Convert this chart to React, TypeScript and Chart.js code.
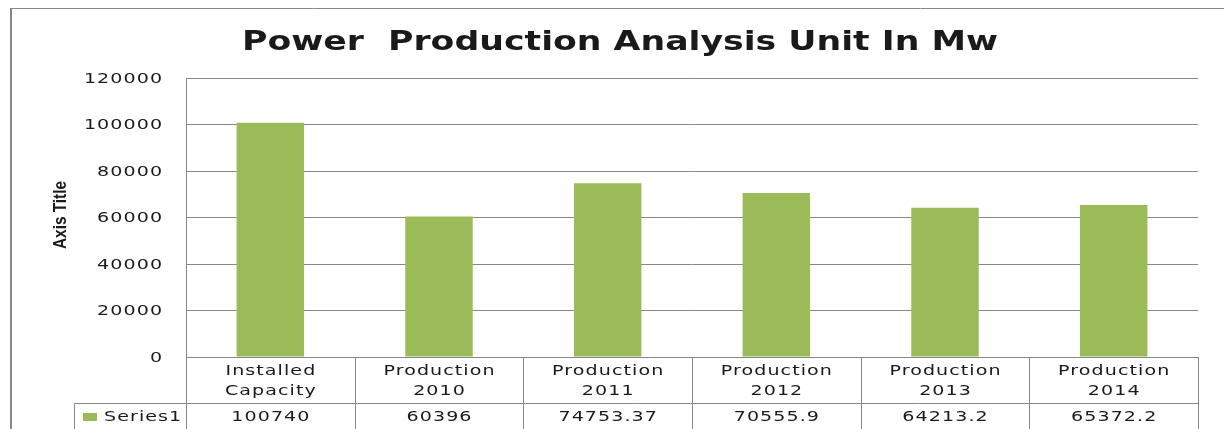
import React, { useEffect, useRef } from "react";
import { Chart, registerables } from "chart.js";

Chart.register(...registerables);

const categories: string[][] = [
  ["Installed", "Capacity"],
  ["Production", "2010"],
  ["Production", "2011"],
  ["Production", "2012"],
  ["Production", "2013"],
  ["Production", "2014"],
];
const seriesName = "Series1";
const seriesValues: number[] = [100740, 60396, 74753.37, 70555.9, 64213.2, 65372.2];
const yTicks: number[] = [0, 20000, 40000, 60000, 80000, 100000, 120000];
const titleText = "Power  Production Analysis Unit In Mw";
const axisTitleText = "Axis Title";

const GREEN = "#9BBB59";
const LINE = "#888888";
const TEXT = "#1a1a1a";
const SX = 1.36;
const LS = 0.8;
const FONT = '14px "DejaVu Sans", Verdana, sans-serif';

function drawText(
  ctx: CanvasRenderingContext2D,
  text: string,
  x: number,
  y: number,
  font: string,
  sx: number,
  align: "left" | "center" | "right",
  baseline: CanvasTextBaseline = "alphabetic",
  ls = 0
) {
  ctx.save();
  ctx.font = font;
  (ctx as any).letterSpacing = ls + "px";
  ctx.fillStyle = TEXT;
  ctx.textAlign = "left";
  ctx.textBaseline = baseline;
  const w = (ctx.measureText(text).width - ls) * sx;
  let x0 = x;
  if (align === "center") x0 = x - w / 2;
  else if (align === "right") x0 = x - w;
  ctx.translate(x0, y);
  ctx.scale(sx, 1);
  ctx.fillText(text, 0, 0);
  ctx.restore();
}

function line(ctx: CanvasRenderingContext2D, x1: number, y1: number, x2: number, y2: number, w = 1) {
  ctx.save();
  ctx.strokeStyle = LINE;
  ctx.lineWidth = w;
  ctx.beginPath();
  ctx.moveTo(x1, y1);
  ctx.lineTo(x2, y2);
  ctx.stroke();
  ctx.restore();
}

const decorPlugin = {
  id: "decor",
  afterDraw(chart: any) {
    const ctx: CanvasRenderingContext2D = chart.ctx;
    const area = chart.chartArea;
    const xs = chart.scales.x;
    const ys = chart.scales.y;
    const H = chart.height;

    // outer frame
    line(ctx, 11, 8, 11, H, 2);
    line(ctx, 10, 8.5, chart.width, 8.5, 1);

    // title
    const tFont = 'bold 27px "DejaVu Sans", Verdana, sans-serif';
    ctx.save();
    ctx.font = tFont;
    const tw = ctx.measureText(titleText).width;
    ctx.restore();
    drawText(ctx, titleText, 620, 50, tFont, 756 / tw, "center");

    // axis title (rotated)
    ctx.save();
    const atFont = 'bold 18px "Liberation Sans Narrow", "Liberation Sans", Arial, sans-serif';
    ctx.font = atFont;
    const aw = ctx.measureText(axisTitleText).width;
    ctx.translate(66, 215);
    ctx.rotate(-Math.PI / 2);
    ctx.scale(68 / aw, 1);
    ctx.fillStyle = TEXT;
    ctx.textAlign = "center";
    ctx.textBaseline = "alphabetic";
    ctx.fillText(axisTitleText, 0, 0);
    ctx.restore();

    // y tick labels
    yTicks.forEach((v) => {
      drawText(ctx, String(v), area.left - 24, ys.getPixelForValue(v) + 1, FONT, SX, "right", "middle", LS);
    });

    // data table
    const n = categories.length;
    const step = n > 1 ? xs.getPixelForValue(1) - xs.getPixelForValue(0) : area.right - area.left;
    const bounds: number[] = [];
    for (let i = 0; i <= n; i++) {
      bounds.push(Math.round(xs.getPixelForValue(i) - step / 2) + 0.5);
    }
    const rowY = 403.5;
    bounds.forEach((bx) => line(ctx, bx, area.bottom, bx, H));
    line(ctx, 74.5, rowY, bounds[n], rowY);
    line(ctx, 74.5, rowY, 74.5, H);

    categories.forEach((lines, i) => {
      const cx = xs.getPixelForValue(i);
      lines.forEach((t, j) => drawText(ctx, t, cx, 375 + j * 20, FONT, SX, "center", "alphabetic", LS));
      drawText(ctx, String(seriesValues[i]), cx, 421, FONT, SX, "center", "alphabetic", LS);
    });

    ctx.save();
    ctx.fillStyle = GREEN;
    ctx.fillRect(83, 413, 14, 8);
    ctx.restore();
    drawText(ctx, seriesName, 104, 421, FONT, SX, "left", "alphabetic", LS);
  },
};

export default function App() {
  const ref = useRef<HTMLCanvasElement | null>(null);
  useEffect(() => {
    if (!ref.current) return;
    const chart = new Chart(ref.current, {
      type: "bar",
      data: {
        labels: categories.map((c) => c.join(" ")),
        datasets: [
          {
            label: seriesName,
            data: seriesValues,
            backgroundColor: GREEN,
            borderWidth: 0,
            barPercentage: 0.4,
            categoryPercentage: 1,
          },
        ],
      },
      options: {
        responsive: false,
        animation: false,
        devicePixelRatio: 1,
        layout: { padding: { top: 78, right: 26, bottom: 0, left: 0 } },
        plugins: { legend: { display: false }, title: { display: false }, tooltip: { enabled: false } },
        scales: {
          x: {
            grid: { display: false, drawTicks: false },
            ticks: { display: false },
            border: { display: true, color: LINE, width: 1 },
            afterFit: (s: any) => {
              s.height = 72;
            },
          },
          y: {
            min: 0,
            max: 120000,
            ticks: { display: false, stepSize: 20000 },
            grid: { color: LINE, drawTicks: false, lineWidth: 1 },
            border: { display: true, color: LINE, width: 1 },
            afterFit: (s: any) => {
              s.width = 186;
            },
          },
        },
      },
      plugins: [decorPlugin],
    });
    return () => chart.destroy();
  }, []);
  return (
    <canvas
      ref={ref}
      width={1224}
      height={429}
      style={{ position: "fixed", left: 0, top: 0, width: 1224, height: 429, background: "#fff" }}
    />
  );
}
